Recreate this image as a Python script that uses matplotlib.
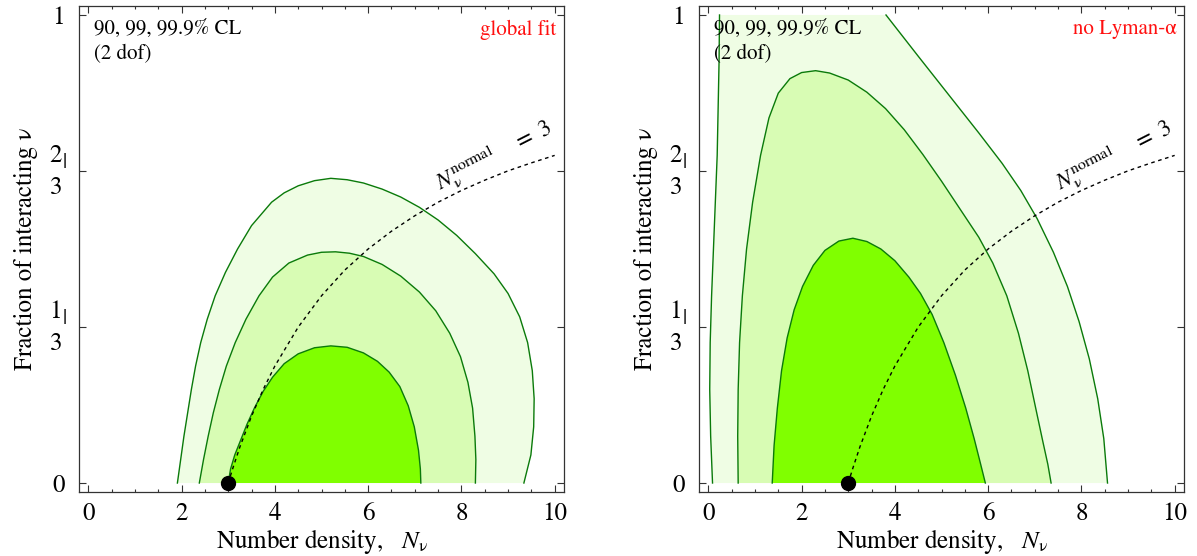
import numpy as np
import matplotlib
matplotlib.use('Agg')
import matplotlib.pyplot as plt
from matplotlib.transforms import blended_transform_factory, offset_copy

plt.rcParams['font.family'] = ['STIXGeneral', 'DejaVu Serif']
plt.rcParams['mathtext.fontset'] = 'stix'

# confidence regions: each region is a list of branches (x, y)
# order: 99.9%, 99%, 90%
left_outer = [([1.91, 1.98, 2.05, 2.13, 2.21, 2.30, 2.41, 2.55, 2.72, 2.94, 3.20, 3.50, 3.93, 4.20,
                4.50, 4.85, 5.20, 5.55, 5.90, 6.30, 6.70, 7.10, 7.50, 7.90, 8.30, 8.70, 9.00, 9.25,
                9.42, 9.52, 9.56, 9.55, 9.49, 9.34],
               [0.0, 0.05, 0.10, 0.15, 0.20, 0.25, 0.30, 0.35, 0.40, 0.45, 0.50, 0.55, 0.60, 0.620,
                0.635, 0.646, 0.651, 0.648, 0.641, 0.628, 0.611, 0.589, 0.562, 0.529, 0.49, 0.447, 0.405, 0.355,
                0.30, 0.24, 0.18, 0.12, 0.06, 0.0])]
left_mid = [([2.38, 2.47, 2.57, 2.68, 2.81, 2.96, 3.15, 3.38, 3.66, 3.95, 4.30, 4.70, 5.00, 5.30,
              5.60, 5.90, 6.30, 6.70, 7.10, 7.45, 7.75, 7.98, 8.14, 8.24, 8.29, 8.31, 8.30],
             [0.0, 0.05, 0.10, 0.15, 0.20, 0.25, 0.30, 0.35, 0.40, 0.44, 0.47, 0.487, 0.493, 0.494,
              0.491, 0.484, 0.467, 0.442, 0.408, 0.368, 0.32, 0.27, 0.215, 0.16, 0.10, 0.05, 0.0])]
left_inner = [([3.00, 3.05, 3.14, 3.26, 3.40, 3.56, 3.75, 3.95, 4.20, 4.50, 4.85, 5.20, 5.55, 5.90,
                6.20, 6.45, 6.68, 6.86, 6.99, 7.08, 7.12, 7.13],
               [0.0, 0.03, 0.06, 0.09, 0.125, 0.16, 0.196, 0.226, 0.255, 0.276, 0.289, 0.293, 0.29, 0.278,
                0.26, 0.237, 0.206, 0.165, 0.12, 0.07, 0.03, 0.0])]

right_outer = [([0.09, 0.05, 0.03, 0.04, 0.07, 0.11, 0.15, 0.19, 0.21, 0.23, 0.24],
                [0.0, 0.1, 0.2, 0.3, 0.4, 0.5, 0.6, 0.7, 0.8, 0.9, 1.0]),
               ([3.81, 4.50, 5.15, 5.80, 6.30, 6.70, 7.05, 7.40, 7.70, 7.95, 8.17, 8.35, 8.48, 8.56],
                [1.0, 0.912, 0.83, 0.748, 0.683, 0.625, 0.565, 0.493, 0.42, 0.345, 0.265, 0.18, 0.095, 0.0])]
right_mid = [([0.64, 0.63, 0.64, 0.67, 0.73, 0.82, 0.95, 1.12, 1.30, 1.50, 1.75, 2.00, 2.30, 2.60,
               3.00, 3.40, 3.80, 4.20, 4.60, 5.00, 5.40, 5.80, 6.10, 6.40, 6.65, 6.85, 7.02, 7.17,
               7.28, 7.35],
              [0.0, 0.1, 0.2, 0.3, 0.4, 0.5, 0.6, 0.7, 0.78, 0.833, 0.864, 0.877, 0.881, 0.876,
               0.861, 0.835, 0.80, 0.755, 0.702, 0.645, 0.585, 0.525, 0.47, 0.40, 0.32, 0.24, 0.16, 0.09,
               0.04, 0.0])]
right_inner = [([1.37, 1.41, 1.48, 1.57, 1.69, 1.84, 2.02, 2.25, 2.50, 2.80, 3.10, 3.40, 3.70, 4.00,
                 4.30, 4.55, 4.80, 5.05, 5.30, 5.52, 5.70, 5.84, 5.94],
                [0.0, 0.08, 0.16, 0.24, 0.31, 0.37, 0.42, 0.465, 0.497, 0.517, 0.523, 0.516, 0.50, 0.475,
                 0.44, 0.405, 0.36, 0.30, 0.23, 0.16, 0.095, 0.04, 0.0])]

# N_normal = 3 line
dash_x = [3.0, 3.1, 3.25, 3.5, 3.75, 4.0, 4.5, 5.0, 5.5, 6.0, 6.5, 7.0, 7.5, 8.0, 8.5, 9.0, 9.5, 10.0]
dash_y = [0.0, 0.032, 0.077, 0.143, 0.2, 0.25, 0.333, 0.4, 0.455, 0.5, 0.538, 0.571, 0.6, 0.625,
          0.647, 0.667, 0.684, 0.7]

best_fit = (3.0, 0.0)
panel_tags = ['global fit', 'no Lyman-\u03b1']
fill_colors = ['#effde4', '#d8fcb4', '#80ff00']
line_green = '#0a7a0a'

fig = plt.figure(figsize=(11.97, 5.56), dpi=100)
ax1 = fig.add_axes([79 / 1197, 1 - 492 / 556, 485 / 1197, 486 / 556])
ax2 = fig.add_axes([699 / 1197, 1 - 492 / 556, 485 / 1197, 486 / 556])


def draw_panel(ax, regions, tag):
    for branches, fc in zip(regions, fill_colors):
        xs = [v for b in branches for v in b[0]]
        ys = [v for b in branches for v in b[1]]
        ax.fill(xs, ys, color=fc, lw=0, zorder=1)
    for branches in regions:
        for bx, by in branches:
            ax.plot(bx, by, color=line_green, lw=1.0, zorder=2)
    ax.plot(dash_x, dash_y, color='black', lw=1.0, dashes=(2.6, 2.6), zorder=3)
    ax.plot(*best_fit, 'o', color='black', ms=10, zorder=5, clip_on=False)
    ax.text(7.55, 0.625, r'$N_{\mathrm{ν}}^{\mathrm{normal}}$    $=$ 3', rotation=27,
            rotation_mode='anchor', ha='left', va='baseline', fontsize=16.5, zorder=4)

    ax.set_xlim(-0.2, 10.2)
    ax.set_ylim(-0.0192, 1.0192)
    ax.set_xticks(range(0, 11, 2))
    ax.set_xticks(np.arange(0, 10.01, 0.5), minor=True)
    ax.set_yticks([0, 1 / 3, 2 / 3, 1])
    ax.set_yticklabels(['0', '', '', '1'])
    ax.tick_params(which='both', direction='in', top=True, right=True, labelsize=18,
                   color='#333333', width=0.8)
    ax.tick_params(which='major', length=5)
    ax.tick_params(which='minor', length=2.5)
    ax.tick_params(axis='x', pad=7)
    ax.tick_params(axis='y', pad=10)
    for s in ax.spines.values():
        s.set_color('#333333')
        s.set_linewidth(0.9)

    # stacked fractions on the y axis
    trans = blended_transform_factory(ax.transAxes, ax.transData)
    for val, num in [(1 / 3, '1'), (2 / 3, '2')]:
        ax.text(-0.048, val, num, transform=offset_copy(trans, fig, y=10.5, units='points'),
                ha='center', va='center', fontsize=18)
        ax.text(-0.048, val, '3', transform=offset_copy(trans, fig, y=-12, units='points'),
                ha='center', va='center', fontsize=18)
        ax.text(-0.030, val, '|', transform=offset_copy(trans, fig, y=5.5, units='points'),
                ha='center', va='center', fontsize=15)

    ax.set_xlabel(r'Number density,   $N_{\mathrm{ν}}$', fontsize=18, labelpad=1)
    ax.set_ylabel('Fraction of interacting \u03bd', fontsize=18)
    ax.yaxis.set_label_coords(-0.085, 0.5)

    ax.text(0.031, 0.972, '90, 99, 99.9% CL', transform=ax.transAxes, ha='left', va='top', fontsize=15)
    ax.text(0.031, 0.922, '(2 dof)', transform=ax.transAxes, ha='left', va='top', fontsize=15)
    ax.text(0.985, 0.972, tag, transform=ax.transAxes, ha='right', va='top', fontsize=15, color='#ff1010')


draw_panel(ax1, [left_outer, left_mid, left_inner], panel_tags[0])
draw_panel(ax2, [right_outer, right_mid, right_inner], panel_tags[1])

fig.savefig('out.png', dpi=100)
